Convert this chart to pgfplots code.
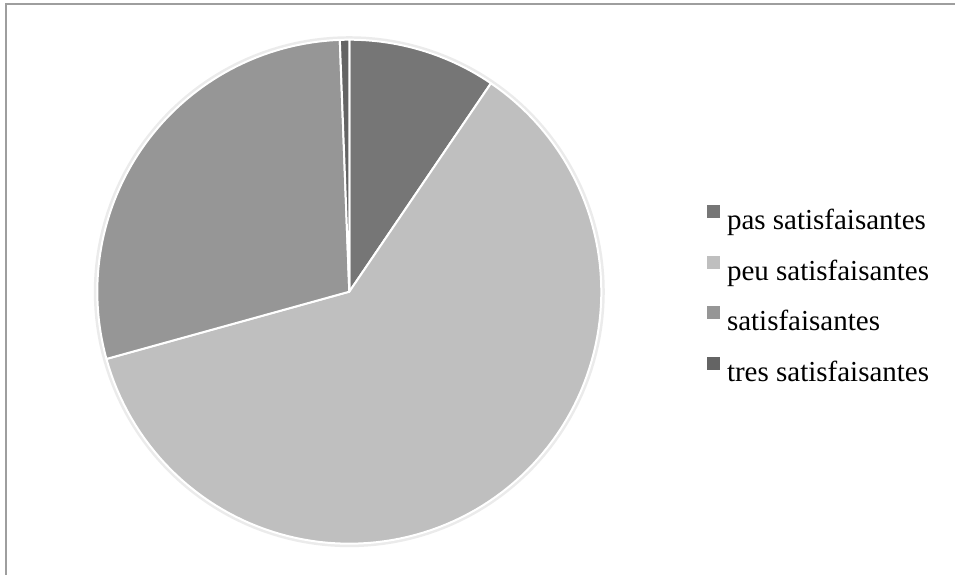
\documentclass[border=0pt]{standalone}
\usepackage{fontspec}
\setmainfont{Liberation Serif}
\usepackage{pgfplots}
\usepackage{pgfplotstable}
\pgfplotsset{compat=1.18}
\definecolor{cA}{HTML}{767676}
\definecolor{cB}{HTML}{BFBFBF}
\definecolor{cC}{HTML}{969696}
\definecolor{cD}{HTML}{646464}
\pgfplotstableread{
label value
pas 9.5
peu 61.2
sat 28.7
tres 0.6
}\piedata
\pgfplotstablegetelem{0}{value}\of\piedata \let\va\pgfplotsretval
\pgfplotstablegetelem{1}{value}\of\piedata \let\vb\pgfplotsretval
\pgfplotstablegetelem{2}{value}\of\piedata \let\vc\pgfplotsretval
\pgfplotstablegetelem{3}{value}\of\piedata \let\vd\pgfplotsretval
\pgfmathsetmacro\aA{90}
\pgfmathsetmacro\aB{\aA-3.6*\va}
\pgfmathsetmacro\aC{\aB-3.6*\vb}
\pgfmathsetmacro\aD{\aC-3.6*\vc}
\pgfmathsetmacro\aE{\aD-3.6*\vd}
\def\cx{349.3}
\def\cy{282.3}
\def\R{252}
\newcommand\slice[3]{%
\addplot[fill=#1, draw=white, line width=2pt, line join=round, variable=\t, samples at={-1,0,...,120}, forget plot]
 ({\cx+((\t<0)?0:(\R*cos(#2+\t*(#3-#2)/120)))},
  {\cy+((\t<0)?0:(\R*sin(#2+\t*(#3-#2)/120)))}) -- cycle;}
\begin{document}
\begin{tikzpicture}
\begin{axis}[
  x=1pt, y=1pt, xmin=0, xmax=955, ymin=0, ymax=574,
  scale only axis, hide axis, at={(0,0)}, anchor=origin, clip=false,
  legend image code/.code={\fill[#1, draw=none] (0pt,4.5pt) rectangle (13pt,17.5pt);},
  legend cell align=left,
  legend style={at={(axis cs:707,369)}, anchor=north west, draw=none, fill=none,
    inner sep=0pt, outer sep=0pt, row sep=20pt, column sep=7pt,
    font=\fontsize{29}{31}\selectfont,
    nodes={inner sep=0pt, text height=20pt, text depth=6pt}},
]
\draw[color=black!38, line width=1.6pt] (axis cs:6,-5) -- (axis cs:6,570) -- (axis cs:960,570);
\addplot[draw=black!8, line width=3pt, domain=0:360, samples=181, forget plot]
  ({\cx+254*cos(x)}, {\cy+254*sin(x)});
\slice{cA}{\aA}{\aB}
\slice{cB}{\aB}{\aC}
\slice{cC}{\aC}{\aD}
\slice{cD}{\aD}{\aE}
\addlegendimage{fill=cA}\addlegendentry{pas satisfaisantes}
\addlegendimage{fill=cB}\addlegendentry{peu satisfaisantes}
\addlegendimage{fill=cC}\addlegendentry{satisfaisantes}
\addlegendimage{fill=cD}\addlegendentry{tres satisfaisantes}
\end{axis}
\pgfresetboundingbox
\useasboundingbox (0,0) rectangle (955pt,574pt);
\end{tikzpicture}
\end{document}
